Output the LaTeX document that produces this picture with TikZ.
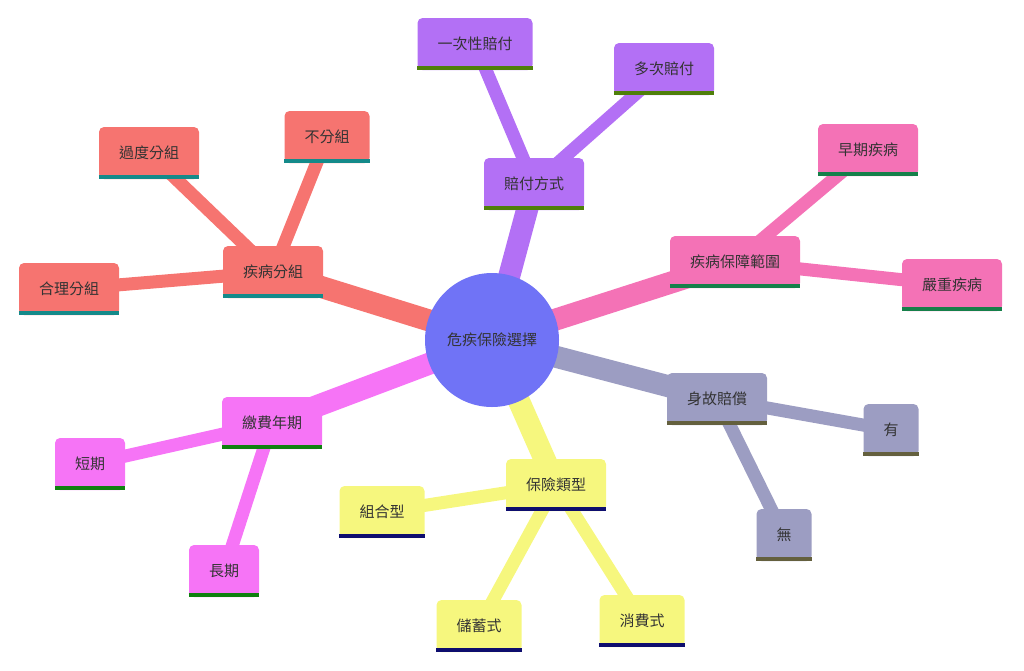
\documentclass[tikz,border=0pt]{standalone}
\usepackage{fontspec}
\setmainfont{Noto Sans CJK TC}
\usetikzlibrary{backgrounds}
\definecolor{cpur}{HTML}{B370F5}\definecolor{gpur}{HTML}{4F7F0A}
\definecolor{cpink}{HTML}{F472B6}\definecolor{gpink}{HTML}{16804A}
\definecolor{cgrey}{HTML}{9C9DC2}\definecolor{ggrey}{HTML}{64603E}
\definecolor{cyel}{HTML}{F6F77E}\definecolor{gyel}{HTML}{0E0E6E}
\definecolor{cmag}{HTML}{F674F6}\definecolor{gmag}{HTML}{0F800F}
\definecolor{csal}{HTML}{F67470}\definecolor{gsal}{HTML}{148A8A}
\definecolor{croot}{HTML}{7073F6}\definecolor{txt}{HTML}{333333}
\tikzset{
 box/.style={rounded corners=5pt,inner xsep=20pt,inner ysep=0pt,minimum height=52pt,text=txt,font=\fontsize{15}{18}\selectfont},
 mainline/.style={line width=22pt},
 leafline/.style={line width=13pt},
 ul/.style={line width=4pt}
}
\newcommand\mn[5]{\node[box,fill=#4] (#1) at (#2) {#3};
 \draw[ul,#5] ([yshift=2pt]#1.south west) -- ([yshift=2pt]#1.south east);}
\begin{document}
\begin{tikzpicture}[x=1pt,y=-1pt]
\useasboundingbox (0,0) rectangle (1024,670);
\node[circle,fill=croot,minimum size=134pt,text=txt,font=\fontsize{15}{18}\selectfont] (root) at (492,340) {危疾保險選擇};
\mn{pf}{534,184}{賠付方式}{cpur}{gpur}
\mn{pf1}{475,44}{一次性賠付}{cpur}{gpur}
\mn{pf2}{664,69}{多次賠付}{cpur}{gpur}
\mn{bz}{735,262}{疾病保障範圍}{cpink}{gpink}
\mn{bz1}{868,150}{早期疾病}{cpink}{gpink}
\mn{bz2}{952,285}{嚴重疾病}{cpink}{gpink}
\mn{sg}{717,399}{身故賠償}{cgrey}{ggrey}
\mn{sg1}{891,430}{有}{cgrey}{ggrey}
\mn{sg2}{784,535}{無}{cgrey}{ggrey}
\mn{lx}{556,485}{保險類型}{cyel}{gyel}
\mn{lx1}{382,512}{組合型}{cyel}{gyel}
\mn{lx2}{479,626}{儲蓄式}{cyel}{gyel}
\mn{lx3}{642,621}{消費式}{cyel}{gyel}
\mn{jf}{272,423}{繳費年期}{cmag}{gmag}
\mn{jf1}{90,464}{短期}{cmag}{gmag}
\mn{jf2}{224,571}{長期}{cmag}{gmag}
\mn{fz}{273,272}{疾病分組}{csal}{gsal}
\mn{fz1}{149,153}{過度分組}{csal}{gsal}
\mn{fz2}{327,137}{不分組}{csal}{gsal}
\mn{fz3}{69,289}{合理分組}{csal}{gsal}
\begin{pgfonlayer}{background}
\draw[mainline,cpur] (root.center) -- (pf.center);
\draw[leafline,cpur] (pf.center) -- (pf1.center) (pf.center) -- (pf2.center);
\draw[mainline,cpink] (root.center) -- (bz.center);
\draw[leafline,cpink] (bz.center) -- (bz1.center) (bz.center) -- (bz2.center);
\draw[mainline,cgrey] (root.center) -- (sg.center);
\draw[leafline,cgrey] (sg.center) -- (sg1.center) (sg.center) -- (sg2.center);
\draw[mainline,cyel] (root.center) -- (lx.center);
\draw[leafline,cyel] (lx.center) -- (lx1.center) (lx.center) -- (lx2.center) (lx.center) -- (lx3.center);
\draw[mainline,cmag] (root.center) -- (jf.center);
\draw[leafline,cmag] (jf.center) -- (jf1.center) (jf.center) -- (jf2.center);
\draw[mainline,csal] (root.center) -- (fz.center);
\draw[leafline,csal] (fz.center) -- (fz1.center) (fz.center) -- (fz2.center) (fz.center) -- (fz3.center);
\end{pgfonlayer}
\end{tikzpicture}
\end{document}
